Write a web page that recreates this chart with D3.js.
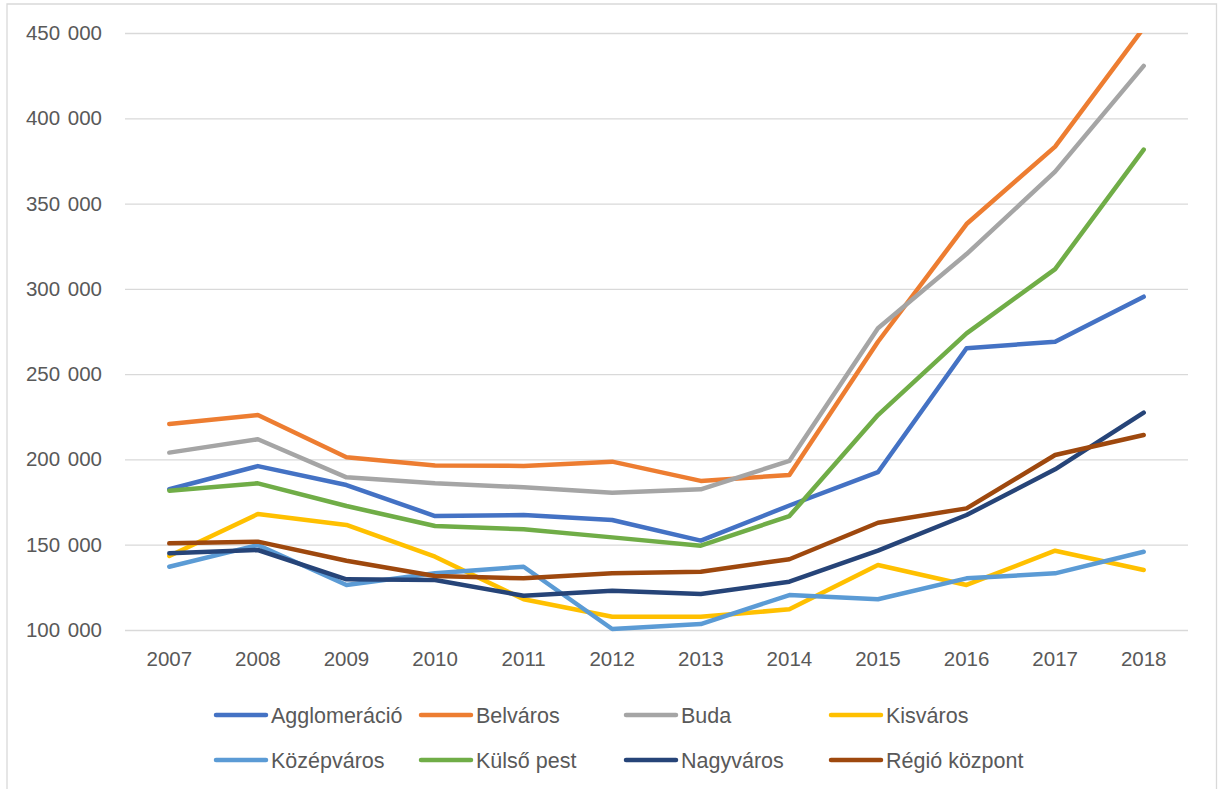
<!DOCTYPE html>
<html>
<head>
<meta charset="utf-8">
<script src="https://cdn.jsdelivr.net/npm/d3@7"></script>
<style>
  html, body { margin: 0; padding: 0; background: #fff; }
  svg text { font-family: "Liberation Sans", Arial, sans-serif; fill: #595959; }
</style>
</head>
<body>
<svg id="chart" width="1219" height="789"></svg>
<script>
// Years on the category axis
const years = ["2007","2008","2009","2010","2011","2012","2013","2014","2015","2016","2017","2018"];

// Y axis ticks
const yTicks = [100000, 150000, 200000, 250000, 300000, 350000, 400000, 450000];

// Series names and colours
const seriesNames = ["Agglomeráció","Belváros","Buda","Kisváros","Középváros","Külső pest","Nagyváros","Régió központ"];
const seriesColors = ["#4472C4","#ED7D31","#A5A5A5","#FFC000","#5B9BD5","#70AD47","#264478","#9E480E"];

// Values per series, 2007–2018
const agglomeracio = [182500,196100,185000,166800,167400,164500,152400,173000,192500,265200,269000,295400];
const belvaros     = [220800,226000,201300,196400,196200,198700,187400,190900,269000,338000,383400,453000];
const buda         = [204000,211800,189500,186000,183700,180500,182500,199100,276900,320400,368700,430700];
const kisvaros     = [143400,168000,161600,143000,118000,107800,107800,112100,138100,126400,146500,135200];
const kozepvaros   = [137100,149800,126400,133300,137100,100600,103500,120500,118000,130300,133200,145900];
const kulsoPest    = [181700,186000,172700,161000,159000,154300,149400,166800,226000,273900,311600,381600];
const nagyvaros    = [145000,146900,129700,129300,120100,123000,121100,128300,146500,167400,194200,227400];
const regioKozpont = [150800,151800,140600,131700,130300,133200,134200,141500,162900,171300,202600,214300];

const seriesValues = [agglomeracio, belvaros, buda, kisvaros, kozepvaros, kulsoPest, nagyvaros, regioKozpont];

const svg = d3.select("#chart");

// Outer chart frame (left, top and right edges)
svg.append("path")
  .attr("d", "M7,789 L7,4 L1216.5,4 L1216.5,789")
  .attr("fill", "none")
  .attr("stroke", "#D9D9D9")
  .attr("stroke-width", 1.3);

const plot = { left: 125, right: 1188, top: 33, bottom: 630 };

const x = d3.scaleBand().domain(years).range([plot.left, plot.right]);
const y = d3.scaleLinear().domain([100000, 450000]).range([plot.bottom, plot.top]);

const fmt = v => d3.format(",")(v).replace(/,/g, " ");

// Horizontal gridlines and value labels
const yAxis = d3.axisLeft(y)
  .tickValues(yTicks)
  .tickSize(-(plot.right - plot.left))
  .tickPadding(23)
  .tickFormat(fmt);

const gy = svg.append("g")
  .attr("transform", `translate(${plot.left},0)`)
  .call(yAxis);
gy.select(".domain").remove();
gy.selectAll(".tick line").attr("stroke", "#D9D9D9").attr("stroke-width", 1.3);
gy.selectAll(".tick text")
  .attr("font-size", 20.5)
  .attr("fill", "#595959")
  .style("word-spacing", "2px");

// Category labels
const xAxis = d3.axisBottom(x).tickSize(0).tickPadding(21);
const gx = svg.append("g")
  .attr("transform", `translate(0,${plot.bottom})`)
  .call(xAxis);
gx.select(".domain").remove();
gx.selectAll(".tick text").attr("font-size", 20.5).attr("fill", "#595959");

// Clip lines at the top of the plot area
svg.append("defs").append("clipPath").attr("id", "plotClip")
  .append("rect")
  .attr("x", 0).attr("y", plot.top)
  .attr("width", 1219).attr("height", 789 - plot.top);

const line = d3.line()
  .x((d, i) => x(years[i]) + x.bandwidth() / 2)
  .y(d => y(d));

svg.append("g").attr("clip-path", "url(#plotClip)")
  .selectAll("path")
  .data(seriesValues)
  .join("path")
  .attr("d", d => line(d))
  .attr("fill", "none")
  .attr("stroke", (d, i) => seriesColors[i])
  .attr("stroke-width", 4.5)
  .attr("stroke-linejoin", "round")
  .attr("stroke-linecap", "round");

// Legend: two rows of four entries
const legend = svg.append("g");
const legendItem = legend.selectAll("g")
  .data(seriesNames)
  .join("g")
  .attr("transform", (d, i) => `translate(${214 + (i % 4) * 205},${715 + Math.floor(i / 4) * 45})`);

legendItem.append("line")
  .attr("x1", 2).attr("x2", 52)
  .attr("y1", 0).attr("y2", 0)
  .attr("stroke", (d, i) => seriesColors[i])
  .attr("stroke-width", 4.5)
  .attr("stroke-linecap", "round");

legendItem.append("text")
  .attr("x", 57)
  .attr("y", 0)
  .attr("dy", "0.35em")
  .attr("font-size", 21.5)
  .text(d => d);
</script>
</body>
</html>
